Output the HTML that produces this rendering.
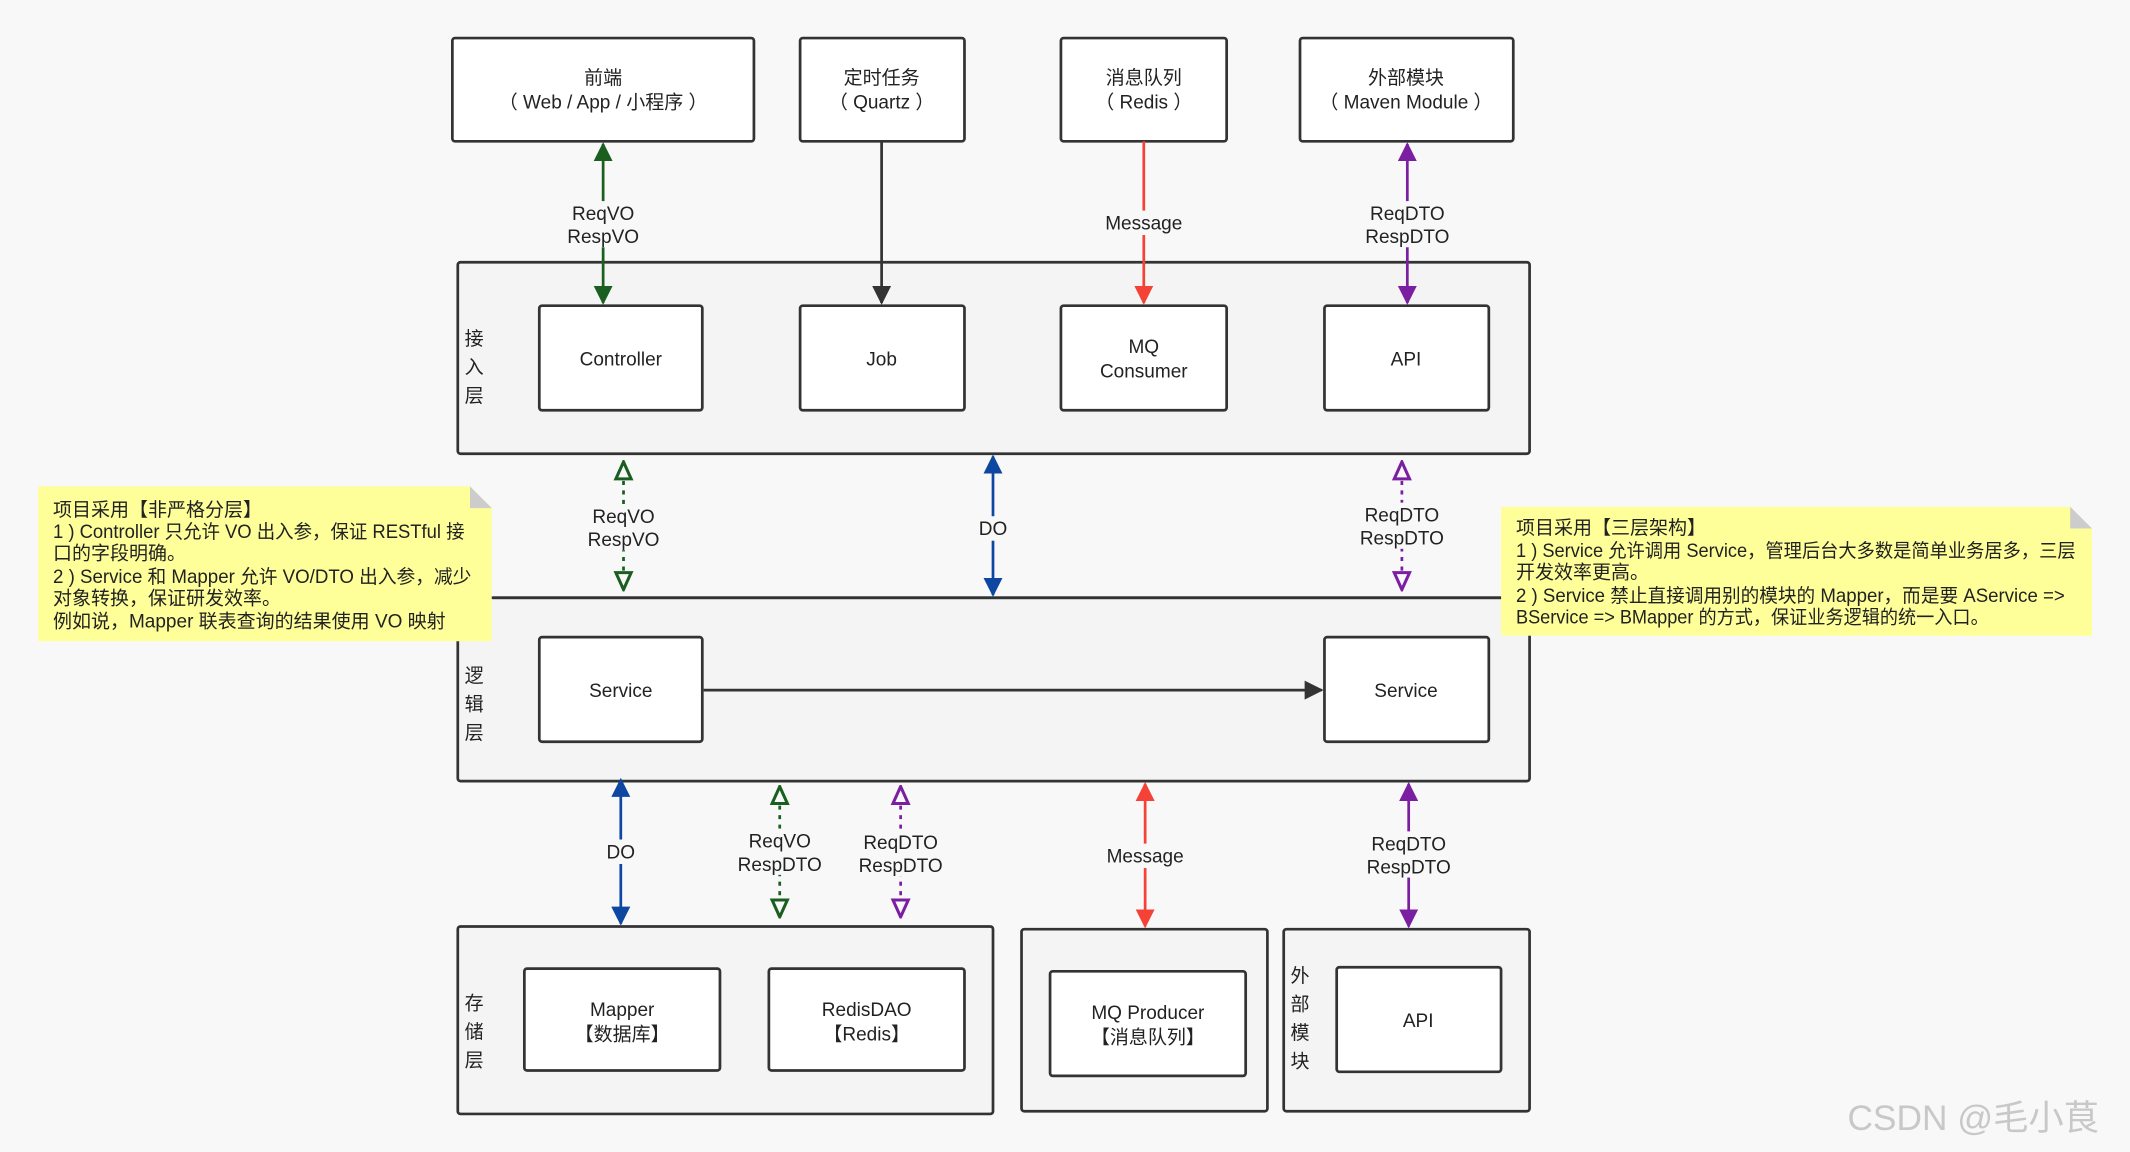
<!DOCTYPE html>
<html><head><meta charset="utf-8"><style>
html,body{margin:0;padding:0;background:#f8f8f8;}
svg{display:block}
text{font-family:"Liberation Sans","Noto Sans CJK SC",sans-serif;font-size:14px;fill:#222;}
</style></head><body>
<svg width="2130" height="1152" viewBox="0 0 1568 848" xmlns="http://www.w3.org/2000/svg">
<defs>
<marker id="ak" viewBox="0 0 10 10" refX="9" refY="5" markerWidth="7" markerHeight="7" orient="auto-start-reverse"><path d="M0,0L10,5L0,10z" fill="#333"/></marker>
<marker id="ag" viewBox="0 0 10 10" refX="9" refY="5" markerWidth="7" markerHeight="7" orient="auto-start-reverse"><path d="M0,0L10,5L0,10z" fill="#1a5e20"/></marker>
<marker id="ar" viewBox="0 0 10 10" refX="9" refY="5" markerWidth="7" markerHeight="7" orient="auto-start-reverse"><path d="M0,0L10,5L0,10z" fill="#f44336"/></marker>
<marker id="ap" viewBox="0 0 10 10" refX="9" refY="5" markerWidth="7" markerHeight="7" orient="auto-start-reverse"><path d="M0,0L10,5L0,10z" fill="#7b1fa2"/></marker>
<marker id="ab" viewBox="0 0 10 10" refX="9" refY="5" markerWidth="7" markerHeight="7" orient="auto-start-reverse"><path d="M0,0L10,5L0,10z" fill="#0d47a1"/></marker>
<marker id="hg" viewBox="0 0 12 12" refX="11" refY="6" markerWidth="7.5" markerHeight="7.5" orient="auto-start-reverse"><path d="M1,1.5L11,6L1,10.5z" fill="#f8f8f8" stroke="#1a5e20" stroke-width="1.8"/></marker>
<marker id="hp" viewBox="0 0 12 12" refX="11" refY="6" markerWidth="7.5" markerHeight="7.5" orient="auto-start-reverse"><path d="M1,1.5L11,6L1,10.5z" fill="#f8f8f8" stroke="#7b1fa2" stroke-width="1.8"/></marker>
</defs>
<rect width="1568" height="848" fill="#f8f8f8"/>

<rect x="337" y="193" width="789" height="141" fill="#f4f4f4" stroke="#333" stroke-width="2" rx="2"/>
<rect x="337" y="440" width="789" height="135" fill="#f4f4f4" stroke="#333" stroke-width="2" rx="2"/>
<rect x="337" y="682" width="394" height="138" fill="#f4f4f4" stroke="#333" stroke-width="2" rx="2"/>
<rect x="752" y="684" width="181" height="134" fill="#f4f4f4" stroke="#333" stroke-width="2" rx="2"/>
<rect x="945" y="684" width="181" height="134" fill="#f4f4f4" stroke="#333" stroke-width="2" rx="2"/>

<g text-anchor="middle">
<text x="349" y="254">接</text><text x="349" y="275">入</text><text x="349" y="296">层</text>
<text x="349" y="502">逻</text><text x="349" y="523">辑</text><text x="349" y="544">层</text>
<text x="349" y="743">存</text><text x="349" y="764">储</text><text x="349" y="785">层</text>
<text x="957" y="723">外</text><text x="957" y="744">部</text><text x="957" y="765">模</text><text x="957" y="786">块</text>
</g>

<g fill="#fff" stroke="#333" stroke-width="2">
<rect x="333" y="28" width="222" height="76" rx="2"/>
<rect x="589" y="28" width="121" height="76" rx="2"/>
<rect x="781" y="28" width="122" height="76" rx="2"/>
<rect x="957" y="28" width="157" height="76" rx="2"/>
<rect x="397" y="225" width="120" height="77" rx="2"/>
<rect x="589" y="225" width="121" height="77" rx="2"/>
<rect x="781" y="225" width="122" height="77" rx="2"/>
<rect x="975" y="225" width="121" height="77" rx="2"/>
<rect x="397" y="469" width="120" height="77" rx="2"/>
<rect x="975" y="469" width="121" height="77" rx="2"/>
<rect x="386" y="713" width="144" height="75" rx="2"/>
<rect x="566" y="713" width="144" height="75" rx="2"/>
<rect x="773" y="715" width="144" height="77" rx="2"/>
<rect x="984" y="712" width="121" height="77" rx="2"/>
</g>
<g text-anchor="middle">
<text x="444" y="62">前端</text><text x="444" y="80">（ Web / App / 小程序 ）</text>
<text x="649" y="62">定时任务</text><text x="649" y="80">（ Quartz ）</text>
<text x="842" y="62">消息队列</text><text x="842" y="80">（ Redis ）</text>
<text x="1035" y="62">外部模块</text><text x="1035" y="80">（ Maven Module ）</text>
<text x="457" y="269">Controller</text>
<text x="649" y="269">Job</text>
<text x="842" y="260">MQ</text><text x="842" y="278">Consumer</text>
<text x="1035" y="269">API</text>
<text x="457" y="513">Service</text>
<text x="1035" y="513">Service</text>
<text x="458" y="748">Mapper</text><text x="458" y="766">【数据库】</text>
<text x="638" y="748">RedisDAO</text><text x="638" y="766">【Redis】</text>
<text x="845" y="750">MQ Producer</text><text x="845" y="768">【消息队列】</text>
<text x="1044" y="756">API</text>
</g>

<line x1="444" y1="106" x2="444" y2="223" stroke="#1a5e20" stroke-width="2" marker-start="url(#ag)" marker-end="url(#ag)"/>
<line x1="649" y1="104" x2="649" y2="223" stroke="#333" stroke-width="2" marker-end="url(#ak)"/>
<line x1="842" y1="104" x2="842" y2="223" stroke="#f44336" stroke-width="2" marker-end="url(#ar)"/>
<line x1="1036" y1="106" x2="1036" y2="223" stroke="#7b1fa2" stroke-width="2" marker-start="url(#ap)" marker-end="url(#ap)"/>
<line x1="459" y1="340" x2="459" y2="434" stroke="#1a5e20" stroke-width="2" stroke-dasharray="3,4" marker-start="url(#hg)" marker-end="url(#hg)"/>
<line x1="731" y1="336" x2="731" y2="438" stroke="#0d47a1" stroke-width="2" marker-start="url(#ab)" marker-end="url(#ab)"/>
<line x1="1032" y1="340" x2="1032" y2="434" stroke="#7b1fa2" stroke-width="2" stroke-dasharray="3,4" marker-start="url(#hp)" marker-end="url(#hp)"/>
<line x1="518" y1="508" x2="973" y2="508" stroke="#333" stroke-width="2" marker-end="url(#ak)"/>
<line x1="457" y1="574" x2="457" y2="680" stroke="#0d47a1" stroke-width="2" marker-start="url(#ab)" marker-end="url(#ab)"/>
<line x1="574" y1="579" x2="574" y2="675" stroke="#1a5e20" stroke-width="2" stroke-dasharray="3,4" marker-start="url(#hg)" marker-end="url(#hg)"/>
<line x1="663" y1="579" x2="663" y2="675" stroke="#7b1fa2" stroke-width="2" stroke-dasharray="3,4" marker-start="url(#hp)" marker-end="url(#hp)"/>
<line x1="843" y1="577" x2="843" y2="682" stroke="#f44336" stroke-width="2" marker-start="url(#ar)" marker-end="url(#ar)"/>
<line x1="1037" y1="577" x2="1037" y2="682" stroke="#7b1fa2" stroke-width="2" marker-start="url(#ap)" marker-end="url(#ap)"/>

<g fill="#f8f8f8">
<rect x="417" y="148" width="54" height="34"/>
<rect x="810" y="155" width="64" height="18"/>
<rect x="1003" y="148" width="66" height="34"/>
<rect x="431" y="371" width="56" height="34"/>
<rect x="718" y="380" width="26" height="18"/>
<rect x="999" y="370" width="66" height="34"/>
<rect x="443" y="618" width="28" height="18"/>
<rect x="542" y="610" width="64" height="34"/>
<rect x="631" y="611" width="64" height="34"/>
<rect x="811" y="621" width="64" height="18"/>
<rect x="1004" y="612" width="66" height="34"/>
</g>
<g text-anchor="middle">
<text x="444" y="162">ReqVO</text><text x="444" y="179">RespVO</text>
<text x="842" y="169">Message</text>
<text x="1036" y="162">ReqDTO</text><text x="1036" y="179">RespDTO</text>
<text x="459" y="385">ReqVO</text><text x="459" y="402">RespVO</text>
<text x="731" y="394">DO</text>
<text x="1032" y="384">ReqDTO</text><text x="1032" y="401">RespDTO</text>
<text x="457" y="632">DO</text>
<text x="574" y="624">ReqVO</text><text x="574" y="641">RespDTO</text>
<text x="663" y="625">ReqDTO</text><text x="663" y="642">RespDTO</text>
<text x="843" y="635">Message</text>
<text x="1037" y="626">ReqDTO</text><text x="1037" y="643">RespDTO</text>
</g>

<path d="M28,358 L346,358 L362,374 L362,472 L28,472 Z" fill="#ffff99"/>
<path d="M346,358 L362,374 L346,374 Z" fill="#cccccc"/>
<g style="font-size:13px">
<text x="39" y="380">项目采用【非严格分层】</text>
<text x="39" y="396" textLength="303" lengthAdjust="spacingAndGlyphs">1 ) Controller 只允许 VO 出入参，保证 RESTful 接</text>
<text x="39" y="412">口的字段明确。</text>
<text x="39" y="429" textLength="308" lengthAdjust="spacingAndGlyphs">2 ) Service 和 Mapper 允许 VO/DTO 出入参，减少</text>
<text x="39" y="445">对象转换，保证研发效率。</text>
<text x="39" y="462">例如说，Mapper 联表查询的结果使用 VO 映射</text>
</g>
<path d="M1105,373 L1524,373 L1540,389 L1540,468 L1105,468 Z" fill="#ffff99"/>
<path d="M1524,373 L1540,389 L1524,389 Z" fill="#cccccc"/>
<g style="font-size:12.5px">
<text x="1116" y="393">项目采用【三层架构】</text>
<text x="1116" y="410" textLength="412" lengthAdjust="spacingAndGlyphs">1 ) Service 允许调用 Service，管理后台大多数是简单业务居多，三层</text>
<text x="1116" y="426">开发效率更高。</text>
<text x="1116" y="443" textLength="404" lengthAdjust="spacingAndGlyphs">2 ) Service 禁止直接调用别的模块的 Mapper，而是要 AService =&gt;</text>
<text x="1116" y="459" textLength="348" lengthAdjust="spacingAndGlyphs">BService =&gt; BMapper 的方式，保证业务逻辑的统一入口。</text>
</g>
<line x1="363" y1="440" x2="1105" y2="440" stroke="#333" stroke-width="2"/>

<text x="1360" y="832" style="font-size:26px;fill:#c8c8c8">CSDN @毛小茛</text>
</svg>
</body></html>
